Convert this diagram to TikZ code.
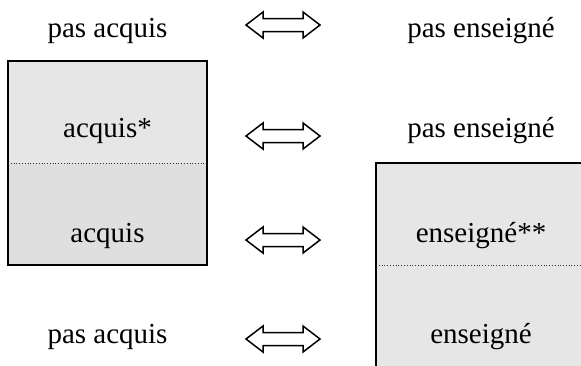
\documentclass[tikz,border=0pt]{standalone}
\usepackage{fontspec}
\setmainfont{Liberation Serif}
\usetikzlibrary{calc}
\begin{document}
\begin{tikzpicture}[x=1bp,y=-1bp,
  lbl/.style={anchor=base,inner sep=0pt,font=\fontsize{29bp}{34bp}\selectfont},
  boxline/.style={draw=black,line width=2.4bp},
  divider/.style={draw=black!80,line width=0.8bp,dotted},
  dblarrow/.style={draw=black,line width=1.5bp,line join=miter,fill=white}]
\useasboundingbox (0,0) rectangle (581,365);
\clip (0,0) rectangle (581,365);
% left box
\fill[fill={rgb,255:red,230;green,230;blue,230}] (8,61) rectangle (207,163);
\fill[fill={rgb,255:red,223;green,223;blue,223}] (8,163) rectangle (207,265);
\draw[divider] (8,163) -- (207,163);
\draw[boxline] (8,61) rectangle (207,265);
% right box
\fill[fill={rgb,255:red,230;green,230;blue,230}] (376,163) rectangle (600,380);
\draw[divider] (376,265) -- (600,265);
\draw[boxline] (376,163) rectangle (600,380);
% labels
\node[lbl] (l1) at (107.5,37) {pas acquis};
\node[lbl] (r1) at (481,37) {pas enseigné};
\node[lbl] (l2) at (107.5,137) {acquis*};
\node[lbl] (r2) at (481,137) {pas enseigné};
\node[lbl] (l3) at (107.5,242) {acquis};
\node[lbl] (r3) at (481,242) {enseigné**};
\node[lbl] (l4) at (107.5,343) {pas acquis};
\node[lbl] (r4) at (481,343) {enseigné};
% double arrows
\foreach \n/\yy in {a1/25,a2/136,a3/240,a4/339}{
  \coordinate (\n) at (283,\yy);
  \draw[dblarrow] ($(\n)+(-37,0)$) -- ++(17,-13) -- ++(0,6.5) -- ++(40,0) -- ++(0,-6.5)
     -- ++(17,13) -- ++(-17,13) -- ++(0,-6.5) -- ++(-40,0) -- ++(0,6.5) -- cycle;
}
\end{tikzpicture}
\end{document}
